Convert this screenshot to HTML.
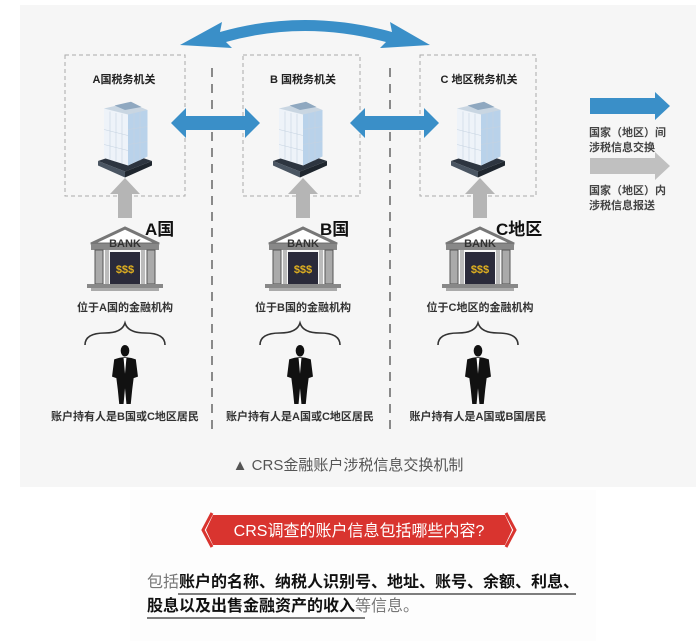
<!DOCTYPE html>
<html><head><meta charset="utf-8"><style>
body{margin:0;background:#fff;}
svg{display:block;font-family:"Liberation Sans","Noto Sans CJK SC",sans-serif;}
</style></head><body>
<svg width="696" height="641" viewBox="0 0 696 641" xmlns="http://www.w3.org/2000/svg">
<defs>
<g id="bld">
  <polygon points="-36,52 0,40 36,52 0,66" fill="#2d3540"/>
  <polygon points="-36,52 0,66 0,74 -36,58" fill="#4a5562"/>
  <polygon points="0,66 36,52 36,58 0,74" fill="#1f262e"/>
  <polygon points="-28,-18 6,-26 30,-16 30,46 4,58 -28,48" fill="#eef3f9"/>
  <polygon points="4,-14 30,-16 30,46 4,58" fill="#b9d2ea"/>
  <polygon points="-28,-18 6,-26 30,-16 4,-10" fill="#c9d6e2"/>
  <polygon points="-14,-22 8,-27 22,-20 0,-16" fill="#8fa8c0"/>
  <g stroke="#c6d3e0" stroke-width="0.8">
   <line x1="-20" y1="-14" x2="-20" y2="50"/><line x1="-12" y1="-12" x2="-12" y2="52"/><line x1="-4" y1="-11" x2="-4" y2="55"/>
   <line x1="12" y1="-14" x2="12" y2="54"/><line x1="20" y1="-15" x2="20" y2="51"/>
   <line x1="-28" y1="10" x2="4" y2="18"/><line x1="-28" y1="30" x2="4" y2="38"/>
   <line x1="4" y1="10" x2="30" y2="6"/><line x1="4" y1="30" x2="30" y2="26"/>
  </g>
</g>
<g id="bank">
  <polygon points="-34,14 0,-2 34,14" fill="#fff" stroke="#777" stroke-width="3"/>
  <rect x="-34" y="14" width="68" height="6" fill="#888"/>
  <rect x="-30" y="20" width="8" height="34" fill="#aaa" stroke="#555" stroke-width="1"/>
  <rect x="22" y="20" width="8" height="34" fill="#aaa" stroke="#555" stroke-width="1"/>
  <rect x="-20" y="20" width="4" height="34" fill="#bbb"/>
  <rect x="16" y="20" width="4" height="34" fill="#bbb"/>
  <rect x="-15" y="22" width="30" height="32" fill="#2a2a3a"/>
  <rect x="-38" y="54" width="76" height="4" fill="#888"/>
  <rect x="-34" y="58" width="68" height="3" fill="#aaa"/>
</g>
<g id="man">
  <ellipse cx="0" cy="8" rx="6" ry="8" fill="#111"/>
  <path d="M-15,20 Q0,14 15,20 L18,44 L12,46 L10,62 L8,82 L2,82 L0,60 L-2,82 L-8,82 L-10,62 L-12,46 L-18,44 Z" fill="#111"/>
  <path d="M-2,18 L0,40 L2,18 Z" fill="#fff"/>
</g>
<path id="brace" d="M-40,22 Q-40,10 -20,10 Q-3,10 0,0 Q3,10 20,10 Q40,10 40,22" fill="none" stroke="#333" stroke-width="1.6"/>
</defs>
<rect x="20" y="5" width="676" height="482" fill="#f6f6f6"/>
<rect x="130" y="490" width="466" height="151" fill="#fdfdfd"/>

<path d="M180,45 L222,22 L220,32 Q304,8 392,32 L390,22 L430,45 L380,48 L386,42 Q304,20 226,42 L232,48 Z" fill="#3a8fc8"/>

<g fill="none" stroke="#aaa" stroke-dasharray="4,3" stroke-width="1">
<rect x="65" y="55" width="120" height="141"/>
<rect x="243" y="55" width="117" height="141"/>
<rect x="420" y="55" width="116" height="141"/>
</g>
<g stroke="#666" stroke-dasharray="9,7" stroke-width="1.5">
<line x1="212" y1="68" x2="212" y2="430"/>
<line x1="390" y1="68" x2="390" y2="430"/>
</g>

<path d="M171,123 L186,108 L186,116 L245,116 L245,108 L260,123 L245,138 L245,130 L186,130 L186,138 Z" fill="#3a8fc8"/>
<path d="M350,123 L365,108 L365,116 L424,116 L424,108 L439,123 L424,138 L424,130 L365,130 L365,138 Z" fill="#3a8fc8"/>

<g font-size="11" font-weight="bold" fill="#222" text-anchor="middle">
<text x="124" y="83">A国税务机关</text>
<text x="303" y="83">B 国税务机关</text>
<text x="479" y="83">C 地区税务机关</text>
</g>

<use href="#bld" transform="translate(125,122) scale(0.75)"/>
<use href="#bld" transform="translate(300,122) scale(0.75)"/>
<use href="#bld" transform="translate(478,122) scale(0.75)"/>

<g fill="#b5b5b5">
<path d="M118,218 L118,194 L110,194 L125,178 L140,194 L132,194 L132,218 Z"/>
<path d="M296,218 L296,194 L288,194 L303,178 L318,194 L310,194 L310,218 Z"/>
<path d="M473,218 L473,194 L465,194 L480,178 L495,194 L487,194 L487,218 Z"/>
</g>
<g font-size="17" font-weight="bold" fill="#111">
<text x="145" y="235">A国</text>
<text x="320" y="235">B国</text>
<text x="496" y="235">C地区</text>
</g>

<use href="#bank" x="125" y="230"/>
<use href="#bank" x="303" y="230"/>
<use href="#bank" x="480" y="230"/>
<g font-size="11" font-weight="bold" fill="#333" text-anchor="middle">
<text x="125" y="247">BANK</text><text x="303" y="247">BANK</text><text x="480" y="247">BANK</text>
</g>
<g font-size="11" font-weight="bold" fill="#e0b020" text-anchor="middle">
<text x="125" y="273">$$$</text><text x="303" y="273">$$$</text><text x="480" y="273">$$$</text>
</g>
<g font-size="11" font-weight="bold" fill="#333" text-anchor="middle">
<text x="125" y="311">位于A国的金融机构</text>
<text x="303" y="311">位于B国的金融机构</text>
<text x="480" y="311">位于C地区的金融机构</text>
</g>

<use href="#brace" x="125" y="323"/>
<use href="#brace" x="300" y="323"/>
<use href="#brace" x="478" y="323"/>
<use href="#man" transform="translate(125,345) scale(0.72)"/>
<use href="#man" transform="translate(300,345) scale(0.72)"/>
<use href="#man" transform="translate(478,345) scale(0.72)"/>
<g font-size="11" font-weight="bold" fill="#333" text-anchor="middle">
<text x="125" y="420">账户持有人是B国或C地区居民</text>
<text x="300" y="420">账户持有人是A国或C地区居民</text>
<text x="478" y="420">账户持有人是A国或B国居民</text>
</g>

<text x="348" y="470" font-size="15" fill="#555" text-anchor="middle">▲ CRS金融账户涉税信息交换机制</text>

<path d="M590,98 L655,98 L655,92 L670,106 L655,120 L655,114 L590,114 Z" fill="#3a8fc8"/>
<path d="M590,158 L655,158 L655,152 L670,166 L655,180 L655,174 L590,174 Z" fill="#c0c0c0"/>
<g font-size="11" font-weight="bold" fill="#444">
<text x="589" y="136">国家（地区）间</text>
<text x="589" y="151">涉税信息交换</text>
<text x="589" y="194">国家（地区）内</text>
<text x="589" y="209">涉税信息报送</text>
</g>

<path d="M213,515 L505,515 L512,530 L505,545 L213,545 L206,530 Z" fill="#d9342f"/>
<path d="M212,513 L203,530 L212,547" fill="none" stroke="#d9342f" stroke-width="3"/>
<path d="M506,513 L515,530 L506,547" fill="none" stroke="#d9342f" stroke-width="3"/>
<text x="359" y="536" font-size="16" fill="#fff" text-anchor="middle">CRS调查的账户信息包括哪些内容?</text>

<g font-size="16">
<text x="147" y="587"><tspan fill="#777">包括</tspan><tspan fill="#111" font-weight="bold">账户的名称、纳税人识别号、地址、账号、余额、利息、</tspan></text>
<text x="147" y="611"><tspan fill="#111" font-weight="bold">股息以及出售金融资产的收入</tspan><tspan fill="#777">等信息。</tspan></text>
</g>
<line x1="178" y1="594" x2="576" y2="594" stroke="#333" stroke-width="1.2"/>
<line x1="147" y1="618" x2="365" y2="618" stroke="#333" stroke-width="1.2"/>
</svg>
</body></html>
